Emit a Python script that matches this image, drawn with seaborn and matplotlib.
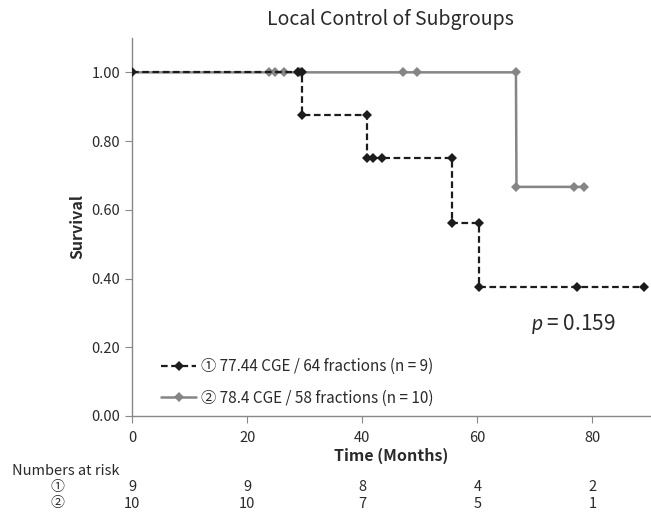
import numpy as np
import pandas as pd
import matplotlib.pyplot as plt
import matplotlib.transforms as mtransforms
import seaborn as sns

# %%
# Kaplan-Meier points as plotted (each point incl. step corners and censor marks)
g1_time = [0, 28.9, 29.5, 29.5, 40.9, 40.9, 41.9, 43.4, 55.6, 55.6, 60.3, 60.3, 77.3, 88.9]
g1_surv = [1.0, 1.0, 1.0, 0.875, 0.875, 0.75, 0.75, 0.75, 0.75, 0.5625, 0.5625, 0.375, 0.375, 0.375]
g2_time = [0, 23.8, 24.9, 26.4, 28.9, 29.2, 47.1, 49.5, 66.7, 66.8, 76.8, 78.6]
g2_surv = [1.0, 1.0, 1.0, 1.0, 1.0, 1.0, 1.0, 1.0, 1.0, 0.6667, 0.6667, 0.6667]
g1_label = '\u2460 77.44 CGE / 64 fractions (n = 9)'
g2_label = '\u2461 78.4 CGE / 58 fractions (n = 10)'

risk_times = [0, 20, 40, 60, 80]
risk_g1 = [9, 9, 8, 4, 2]
risk_g2 = [10, 10, 7, 5, 1]
p_text = '$\\it{p}$ = 0.159'

# %%
sns.set_style('white')
plt.rcParams['font.family'] = ['Noto Sans CJK JP', 'Lato', 'DejaVu Sans']
plt.rcParams['mathtext.fontset'] = 'custom'
plt.rcParams['mathtext.it'] = 'Lato:italic'
plt.rcParams['mathtext.rm'] = 'Noto Sans CJK JP'
txt = '#2a2a2a'

fig = plt.figure(figsize=(6.51, 5.16), dpi=100)
ax = fig.add_axes([0.2028, 0.1938, 0.7957, 0.7326])

df1 = pd.DataFrame({'t': g1_time, 's': g1_surv})
df2 = pd.DataFrame({'t': g2_time, 's': g2_surv})

sns.lineplot(data=df1, x='t', y='s', sort=False, estimator=None, ax=ax,
             color='#1c1c1c', linestyle=(0, (3, 1.6)), linewidth=1.6,
             marker='D', markersize=5.5, markeredgewidth=0, label=g1_label, zorder=3)
sns.lineplot(data=df2, x='t', y='s', sort=False, estimator=None, ax=ax,
             color='#858585', linewidth=1.8,
             marker='D', markersize=5.5, markeredgewidth=0, label=g2_label, zorder=2)

ax.set_xlim(0, 90)
ax.set_ylim(0, 1.1)
ax.set_xticks([0, 20, 40, 60, 80])
ax.set_yticks(np.arange(0, 1.01, 0.2))
ax.set_yticklabels([f'{v:.2f}' for v in np.arange(0, 1.01, 0.2)])
ax.tick_params(axis='both', labelsize=10.5, colors=txt, length=5,
               color='#888888', direction='out', bottom=True, left=True)
ax.tick_params(axis='x', pad=6)
for side in ['top', 'right']:
    ax.spines[side].set_visible(False)
for side in ['left', 'bottom']:
    ax.spines[side].set_color('#888888')
    ax.spines[side].set_linewidth(1.0)

ax.set_xlabel('Time (Months)', fontsize=11.5, fontweight='bold', labelpad=2, color=txt)
ax.set_ylabel('Survival', fontsize=11.5, fontweight='bold', labelpad=4, color=txt)
fig.text(0.6, 0.962, 'Local Control of Subgroups', fontsize=14, ha='center', va='center',
         color=txt)

ax.text(69.3, 0.267, p_text, fontsize=15, ha='left', va='center', color=txt)

leg = ax.legend(loc='upper left', bbox_to_anchor=(0.03, 0.19), frameon=False,
                fontsize=11, handlelength=2.3, labelspacing=0.95, handletextpad=0.3)
for t in leg.get_texts():
    t.set_color(txt)

# numbers at risk table
trans = mtransforms.blended_transform_factory(ax.transData, fig.transFigure)
row1_y = 1 - 487 / 516
row2_y = 1 - 503.5 / 516
fig.text(0.018, 1 - 471 / 516, 'Numbers at risk', fontsize=10.5, ha='left', va='center', color=txt)
fig.text(0.088, row1_y, '\u2460', fontsize=10, ha='center', va='center', color=txt)
fig.text(0.088, row2_y, '\u2461', fontsize=10, ha='center', va='center', color=txt)
for t, a, b in zip(risk_times, risk_g1, risk_g2):
    ax.text(t, row1_y, str(a), transform=trans, fontsize=10.5, ha='center', va='center',
            color=txt, clip_on=False)
    ax.text(t, row2_y, str(b), transform=trans, fontsize=10.5, ha='center', va='center',
            color=txt, clip_on=False)

fig.savefig('out.png', dpi=100, facecolor='white')
